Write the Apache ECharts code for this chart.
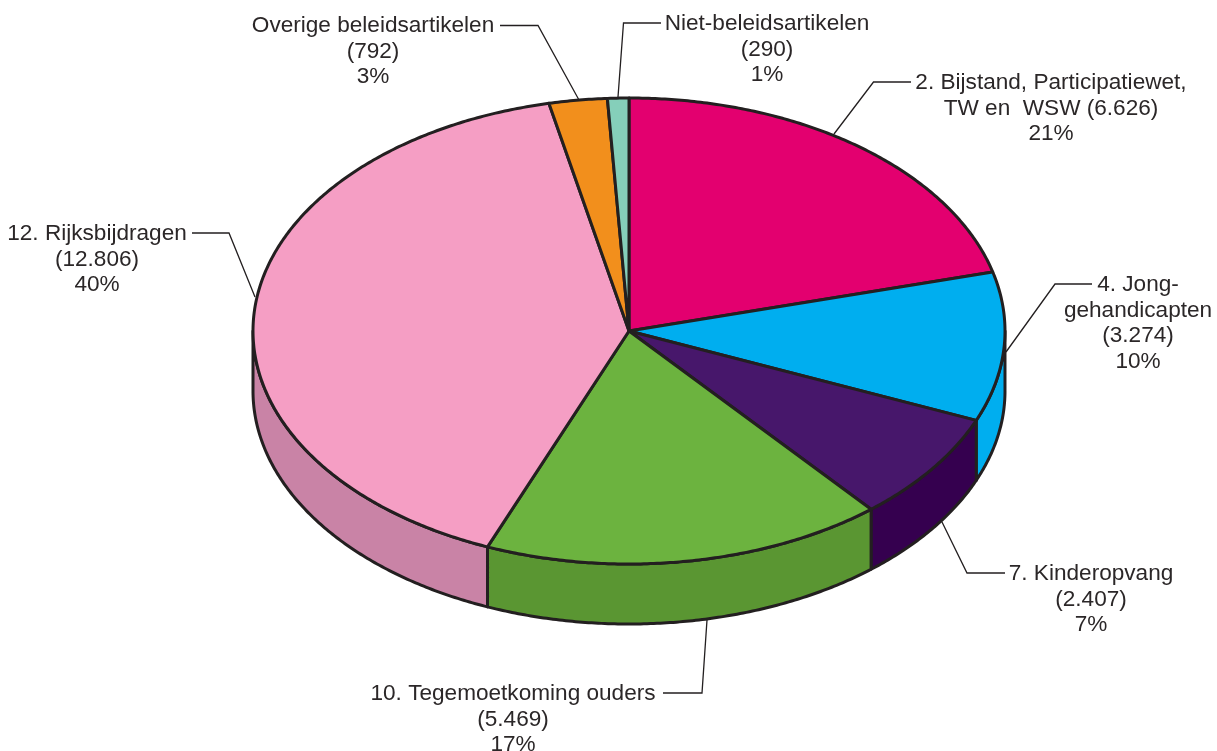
<!DOCTYPE html>
<html><head><meta charset="utf-8">
<style>html,body{margin:0;padding:0;background:#fff}#c{width:1217px;height:751px}</style>
<script src="https://cdn.jsdelivr.net/npm/echarts@6/dist/echarts.min.js"></script>
</head><body><div id="c"></div>
<script>
var categories = ['2. Bijstand, Participatiewet, TW en WSW','4. Jong-gehandicapten','7. Kinderopvang','10. Tegemoetkoming ouders','12. Rijksbijdragen','Overige beleidsartikelen','Niet-beleidsartikelen'];
var values = [6626,3274,2407,5469,12806,792,290];
var topColors = ['#e3006f','#00aeef','#47176b','#6cb33f','#f59ec4','#f28f1c','#85cfba'];
var sideColors = ['#b00058','#00aeef','#35004f','#5a9632','#c983a6','#c0701a','#6aa695'];
var labelTexts = [
  '2. Bijstand, Participatiewet,\nTW en  WSW (6.626)\n21%',
  '4. Jong-\ngehandicapten\n(3.274)\n10%',
  '7. Kinderopvang\n(2.407)\n7%',
  '10. Tegemoetkoming ouders\n(5.469)\n17%',
  '12. Rijksbijdragen\n(12.806)\n40%',
  'Overige beleidsartikelen\n(792)\n3%',
  'Niet-beleidsartikelen\n(290)\n1%'
];
var labelAnchors = [[1051,70],[1138,272],[1091,561],[513,681],[97,221],[373,13],[767,11]];
var leaders = [
  [[911,82],[873.5,82],[834,134]],
  [[1092,284],[1055,284],[1006,352]],
  [[1005,573],[967,573],[942,522]],
  [[663,693],[702,693],[707,620]],
  [[192,233],[229,233],[255,297]],
  [[500,25.5],[538,25.5],[579,100]],
  [[661,23],[623.5,23],[618,97]]
];
var CX=629, CY=331, RX=376, RY=233, DEPTH=60, INK='#231f20';
var total = values.reduce(function(a,b){return a+b;},0);
function startAngle(i){var s=0;for(var k=0;k<i;k++)s+=values[k];return s/total*360;}
function pt(a,dy){var r=a*Math.PI/180;return [CX+RX*Math.sin(r),CY-RY*Math.cos(r)+(dy||0)];}
function arc(a,b,dy){var out=[],n=Math.max(2,Math.ceil(Math.abs(b-a)/0.5));for(var j=0;j<=n;j++)out.push(pt(a+(b-a)*j/n,dy));return out;}

function renderSide(params,api){
  var i=params.dataIndex,a=startAngle(i),b=a+api.value(0)/total*360;
  var s=Math.max(a,90),e=Math.min(b,270);
  if(e<=s) return null;
  var pts=arc(s,e,0).concat(arc(e,s,DEPTH));
  return {type:'polygon',shape:{points:pts},style:{fill:sideColors[i],stroke:INK,lineWidth:3,lineJoin:'round'}};
}
function renderTop(params,api){
  var i=params.dataIndex,a=startAngle(i),b=a+api.value(0)/total*360;
  var pts=[[CX,CY]].concat(arc(a,b,0));
  return {type:'polygon',shape:{points:pts},style:{fill:topColors[i],stroke:INK,lineWidth:3,lineJoin:'round'}};
}
function renderLabel(params,api){
  var i=params.dataIndex;
  return {type:'group',children:[
    {type:'polyline',shape:{points:leaders[i]},style:{fill:'none',stroke:INK,lineWidth:1.3}},
    {type:'text',x:labelAnchors[i][0],y:labelAnchors[i][1],style:{text:labelTexts[i],fill:'#2b2728',
      font:'22.6px "Liberation Sans", Arial, sans-serif',lineHeight:25.7,align:'center',verticalAlign:'top'}}
  ]};
}
var chart = echarts.init(document.getElementById('c'),null,{renderer:'canvas'});
chart.setOption({
  animation:false,
  backgroundColor:'#ffffff',
  tooltip:{show:false},
  series:[
    {type:'custom',name:'zijkant',coordinateSystem:'none',silent:true,z:1,renderItem:renderSide,data:values},
    {type:'custom',name:'bovenkant',coordinateSystem:'none',silent:true,z:2,renderItem:renderTop,data:values},
    {type:'custom',name:'labels',coordinateSystem:'none',silent:true,z:3,renderItem:renderLabel,data:values}
  ]
});
</script></body></html>
